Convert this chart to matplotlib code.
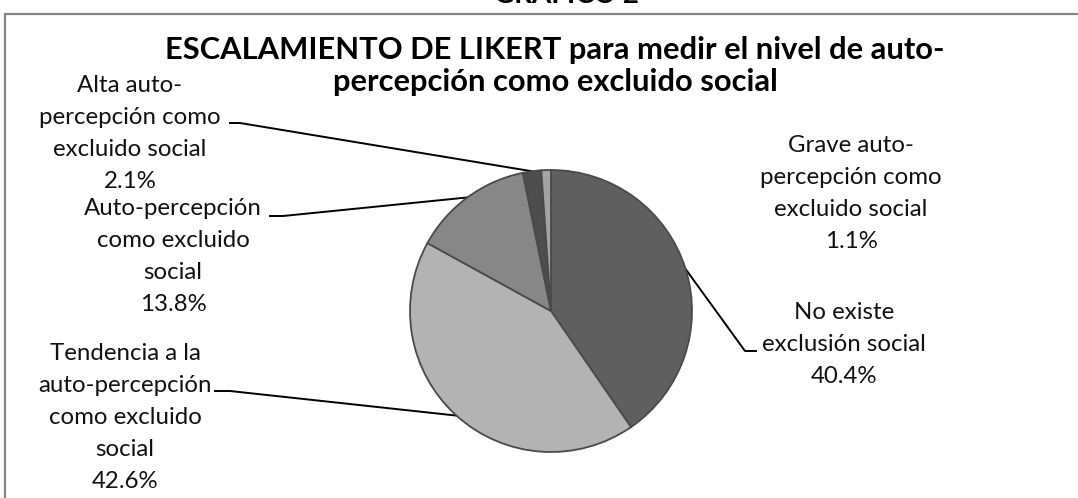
import matplotlib
matplotlib.use("Agg")
import matplotlib.pyplot as plt
import numpy as np

# datos del grafico (orden horario desde arriba)
categorias = [
    "No existe\nexclusión social",
    "Tendencia a la\nauto-percepción\ncomo excluido\nsocial",
    "Auto-percepción\ncomo excluido\nsocial",
    "Alta auto-\npercepción como\nexcluido social",
    "Grave auto-\npercepción como\nexcluido social",
]
porcentajes = [40.4, 42.6, 13.8, 2.1, 1.1]
colores = ["#5f5f5f", "#b3b3b3", "#878787", "#4d4d4d", "#a3a3a3"]

titulo = "ESCALAMIENTO DE LIKERT para medir el nivel de auto-\npercepción como excluido social"
encabezado = "GRAFICO 2"

# layout en pixeles (origen arriba a la izquierda)
W, H = 1078, 498
cx, cy, r = 551, 311, 141
label_xy = [(844, 312), (125, 353), (173, 208), (130, 85), (851, 145)]
# (inicio del texto, codo) para las lineas guia; None = sin linea
guias = [((756, 351), (745, 351)), ((215, 391), (230, 391)),
         ((270, 216), (283, 216)), ((230, 123), (240, 123)), None]
paso = 32
fuente = "Lato"

fig = plt.figure(figsize=(W / 100, H / 100), dpi=100)

over = fig.add_axes([0, 0, 1, 1])
over.set_xlim(0, W)
over.set_ylim(H, 0)
over.axis("off")

# marco del area del grafico
over.plot([5, 5, W], [H, 14, 14], color="#868686", lw=1.6, solid_joinstyle="miter")
over.text(566, 3, encabezado, ha="center", va="baseline", fontsize=20,
          fontweight="bold", family=fuente)

for i, linea in enumerate(titulo.split("\n")):
    over.text(555, 50 + i * paso, linea, ha="center", va="center", fontsize=22.2,
              fontweight="bold", family=fuente)

m = 1.04
ax = fig.add_axes([(cx - r * m) / W, 1 - (cy + r * m) / H, 2 * r * m / W, 2 * r * m / H])
wedges, _ = ax.pie(porcentajes, colors=colores, startangle=90, counterclock=False,
                   radius=1, wedgeprops=dict(edgecolor="#4a4a4a", linewidth=1.3))
ax.set_xlim(-m, m)
ax.set_ylim(-m, m)
ax.set_aspect("equal")
ax.axis("off")

for w, cat, val, (lx, ly), guia in zip(wedges, categorias, porcentajes, label_xy, guias):
    lineas = cat.split("\n") + [f"{val:.1f}%"]
    for k, t in enumerate(lineas):
        over.text(lx, ly + k * paso, t, ha="center", va="center", fontsize=17.3,
                  family=fuente, color="#111111")
    if guia is not None:
        ang = np.deg2rad((w.theta1 + w.theta2) / 2)
        px, py = cx + r * np.cos(ang), cy - r * np.sin(ang)
        (x0, y0), (x1, y1) = guia
        over.plot([x0, x1, px], [y0, y1, py], color="black", lw=1.4)

fig.savefig("out.png", dpi=100)
